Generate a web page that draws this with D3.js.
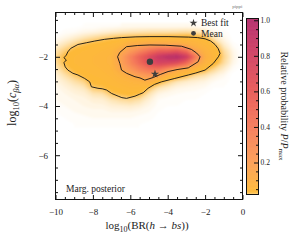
<!DOCTYPE html>
<html>
<head>
<meta charset="utf-8">
<script src="https://cdn.jsdelivr.net/npm/d3@7"></script>
<style>
body { margin: 0; background: #fff; }
svg text { font-family: "Liberation Serif", "DejaVu Serif", serif; fill: #222; }
</style>
</head>
<body>
<script>
// grid of the marginalised posterior, columns = log10 BR, rows = log10 c_ba
var gridX = [-10, -9.5, -9, -8.5, -8, -7.5, -7, -6.5, -6, -5.5, -5, -4.5, -4, -3.5, -3, -2.5, -2, -1.5, -1, -0.5, 0];
var gridY = [-0.75, -1, -1.25, -1.5, -1.75, -2, -2.25, -2.5, -2.75, -3, -3.25, -3.5, -3.75, -4, -4.25, -4.5, -4.75];
var density = [
  [0, 0, 0, 0.001, 0.001, 0.002, 0.002, 0.003, 0.003, 0.003, 0.003, 0.003, 0.003, 0.003, 0.003, 0.003, 0.002, 0.001, 0, 0, 0],
  [0, 0.002, 0.003, 0.005, 0.006, 0.008, 0.01, 0.012, 0.014, 0.015, 0.016, 0.016, 0.016, 0.017, 0.018, 0.016, 0.012, 0.005, 0.002, 0, 0],
  [0.003, 0.006, 0.01, 0.015, 0.02, 0.025, 0.03, 0.034, 0.036, 0.038, 0.04, 0.042, 0.045, 0.045, 0.048, 0.045, 0.036, 0.014, 0.005, 0, 0],
  [0.008, 0.014, 0.022, 0.032, 0.038, 0.042, 0.048, 0.06, 0.12, 0.13, 0.15, 0.16, 0.14, 0.14, 0.1, 0.08, 0.06, 0.032, 0.01, 0.002, 0],
  [0.015, 0.025, 0.04, 0.045, 0.05, 0.055, 0.062, 0.13, 0.22, 0.33, 0.45, 0.55, 0.55, 0.6, 0.45, 0.16, 0.08, 0.05, 0.018, 0.005, 0],
  [0.02, 0.036, 0.045, 0.05, 0.055, 0.06, 0.07, 0.18, 0.36, 0.55, 0.72, 0.88, 0.97, 1.0, 0.85, 0.4, 0.1, 0.055, 0.022, 0.006, 0],
  [0.018, 0.034, 0.045, 0.05, 0.055, 0.06, 0.07, 0.18, 0.33, 0.5, 0.68, 0.78, 0.75, 0.7, 0.5, 0.2, 0.08, 0.042, 0.018, 0.005, 0],
  [0.012, 0.026, 0.04, 0.045, 0.05, 0.056, 0.065, 0.15, 0.24, 0.36, 0.45, 0.45, 0.3, 0.15, 0.1, 0.06, 0.038, 0.02, 0.01, 0.002, 0],
  [0.008, 0.016, 0.027, 0.038, 0.045, 0.05, 0.058, 0.08, 0.13, 0.2, 0.25, 0.18, 0.08, 0.055, 0.035, 0.02, 0.015, 0.008, 0.004, 0, 0],
  [0.006, 0.01, 0.016, 0.022, 0.04, 0.042, 0.05, 0.06, 0.07, 0.08, 0.11, 0.045, 0.025, 0.014, 0.01, 0.008, 0.006, 0.003, 0.002, 0, 0],
  [0.004, 0.007, 0.01, 0.013, 0.028, 0.032, 0.042, 0.048, 0.055, 0.055, 0.032, 0.015, 0.01, 0.006, 0.005, 0.004, 0.003, 0.001, 0.001, 0, 0],
  [0.004, 0.005, 0.007, 0.008, 0.014, 0.016, 0.029, 0.036, 0.042, 0.034, 0.015, 0.006, 0.004, 0.003, 0.002, 0.002, 0.001, 0, 0, 0, 0],
  [0.003, 0.004, 0.005, 0.006, 0.008, 0.009, 0.014, 0.018, 0.02, 0.016, 0.008, 0.003, 0.002, 0.002, 0.001, 0.001, 0, 0, 0, 0, 0],
  [0.002, 0.003, 0.004, 0.005, 0.006, 0.006, 0.008, 0.009, 0.01, 0.008, 0.005, 0.002, 0.001, 0.001, 0, 0, 0, 0, 0, 0, 0],
  [0.001, 0.002, 0.003, 0.004, 0.004, 0.004, 0.005, 0.005, 0.005, 0.004, 0.003, 0.001, 0, 0, 0, 0, 0, 0, 0, 0, 0],
  [0, 0.001, 0.002, 0.002, 0.003, 0.003, 0.003, 0.003, 0.003, 0.002, 0.002, 0, 0, 0, 0, 0, 0, 0, 0, 0, 0],
  [0, 0, 0.001, 0.001, 0.001, 0.001, 0.001, 0.001, 0.001, 0.001, 0, 0, 0, 0, 0, 0, 0, 0, 0, 0, 0]
];
// credible region outlines
var outerContour = [
  [-9.19, -1.66], [-8.8, -1.5], [-8.35, -1.43], [-7.9, -1.36], [-7.37, -1.29], [-6.9, -1.25], [-6.47, -1.22],
  [-5.7, -1.19], [-4.95, -1.18], [-3.98, -1.18], [-2.9, -1.2], [-2.4, -1.22], [-2.0, -1.27], [-1.7, -1.36],
  [-1.47, -1.5], [-1.3, -1.67], [-1.2, -1.86], [-1.29, -2.0], [-1.56, -2.27], [-2.0, -2.54], [-2.5, -2.66],
  [-2.9, -2.74], [-3.62, -2.88], [-4.34, -3.02], [-4.7, -3.12], [-5.05, -3.28], [-5.31, -3.46], [-5.5, -3.52],
  [-5.75, -3.6], [-6.2, -3.69], [-6.45, -3.66], [-6.65, -3.6], [-7.0, -3.49], [-7.27, -3.35], [-7.5, -3.3],
  [-7.73, -3.28], [-8.08, -3.22], [-8.17, -3.02], [-8.44, -2.88], [-8.8, -2.74], [-9.07, -2.67], [-9.34, -2.54],
  [-9.48, -2.41], [-9.55, -2.24], [-9.42, -2.13], [-9.55, -2.04], [-9.42, -1.93], [-9.34, -1.8], [-9.19, -1.66]
];
var innerContour = [
  [-6.2, -1.59], [-5.6, -1.54], [-4.95, -1.52], [-4.1, -1.53], [-3.26, -1.57], [-2.73, -1.7], [-2.45, -1.85],
  [-2.27, -2.0], [-2.37, -2.2], [-2.9, -2.45], [-3.5, -2.52], [-3.98, -2.6], [-4.4, -2.72], [-4.77, -2.84],
  [-5.22, -2.95], [-5.48, -2.86], [-5.75, -2.81], [-6.2, -2.67], [-6.47, -2.54], [-6.56, -2.27], [-6.68, -2.0],
  [-6.56, -1.82], [-6.2, -1.59]
];
var bestFit = [-4.68, -2.70];
var mean = [-4.95, -2.20];
var xTicks = [-10, -8, -6, -4, -2, 0];
var yTicks = [-6, -4, -2];
var cbTicks = [0.2, 0.4, 0.6, 0.8, 1.0];

var width = 296, height = 240;
var x = d3.scaleLinear().domain([-10, 0]).range([55.5, 242.5]);
var y = d3.scaleLinear().domain([-7.8, -0.2]).range([199.5, 12.5]);
var cb = d3.scaleLinear().domain([0.02, 1.01]).range([194.5, 18.5]);

var cmap = d3.scaleLinear()
  .domain([0, 0.2, 0.4, 0.6, 0.8, 1])
  .range(["#fdbf33", "#fc9f57", "#f57b5b", "#e85b58", "#d24263", "#b52f6c"])
  .clamp(true);
var paleEdge = 0.035;
function colour(v) {
  if (v < paleEdge) return d3.interpolateRgb("#ffffff", cmap(paleEdge))(v / paleEdge);
  return cmap(v);
}

var svg = d3.select("body").append("svg")
  .attr("width", width)
  .attr("height", height);
var defs = svg.append("defs");
defs.append("clipPath").attr("id", "plotclip")
  .append("rect").attr("x", 55.5).attr("y", 12.5).attr("width", 187).attr("height", 187);
defs.append("filter").attr("id", "soft").attr("x", "-10%").attr("y", "-10%").attr("width", "120%").attr("height", "120%")
  .append("feGaussianBlur").attr("stdDeviation", 1.2);

// heat map from the density grid
var n = gridX.length, m = gridY.length;
var values = [];
density.forEach(function (row) { row.forEach(function (v) { values.push(v); }); });
var levels = d3.range(0.001, paleEdge, 0.002).concat(d3.range(paleEdge, 1.0, 0.01));
var bands = d3.contours().size([n, m]).thresholds(levels)(values);
var gx = d3.scaleLinear().domain([0.5, n - 0.5]).range([x(gridX[0]), x(gridX[n - 1])]);
var gy = d3.scaleLinear().domain([0.5, m - 0.5]).range([y(gridY[0]), y(gridY[m - 1])]);
var proj = d3.geoTransform({ point: function (a, b) { this.stream.point(gx(a), gy(b)); } });
var gpath = d3.geoPath(proj);

var plot = svg.append("g").attr("clip-path", "url(#plotclip)");
plot.append("g").attr("filter", "url(#soft)")
  .selectAll("path")
  .data(bands)
  .enter().append("path")
  .attr("d", gpath)
  .attr("fill", function (d) { return colour(d.value); });

var line = d3.line()
  .x(function (d) { return x(d[0]); })
  .y(function (d) { return y(d[1]); });
plot.selectAll(".contour")
  .data([outerContour, innerContour])
  .enter().append("path")
  .attr("class", "contour")
  .attr("d", line)
  .attr("fill", "none")
  .attr("stroke", "#111")
  .attr("stroke-width", 0.9)
  .attr("stroke-linejoin", "round");

var markColour = "#3e3e3e";
plot.append("circle")
  .attr("cx", x(mean[0])).attr("cy", y(mean[1])).attr("r", 3.2)
  .attr("fill", markColour);
plot.append("path")
  .attr("d", d3.symbol(d3.symbolStar).size(22)())
  .attr("transform", "translate(" + x(bestFit[0]) + "," + y(bestFit[1]) + ")")
  .attr("fill", markColour);

// axes, ticks pointing in on all four sides
var minorX = d3.range(-9.5, 0, 0.5).filter(function (v) { return xTicks.indexOf(v) < 0; });
var minorY = d3.range(-7.5, -0.2, 0.5).filter(function (v) { return yTicks.indexOf(v) < 0; });
function addAxis(axis, tx, ty, labels) {
  var g = svg.append("g").attr("transform", "translate(" + tx + "," + ty + ")").call(axis);
  g.select(".domain").remove();
  g.selectAll("line").attr("stroke", "#111");
  if (!labels) g.selectAll("text").remove();
  return g;
}
var fmt = d3.format("d");
addAxis(d3.axisBottom(x).tickValues(xTicks).tickSize(-4.5).tickPadding(9).tickFormat(fmt), 0, 199.5, true)
  .selectAll("text").attr("font-size", 9).attr("font-family", null);
addAxis(d3.axisBottom(x).tickValues(minorX).tickSize(-2.5), 0, 199.5, false);
addAxis(d3.axisTop(x).tickValues(xTicks).tickSize(-4.5), 0, 12.5, false);
addAxis(d3.axisTop(x).tickValues(minorX).tickSize(-2.5), 0, 12.5, false);
addAxis(d3.axisLeft(y).tickValues(yTicks).tickSize(-4.5).tickPadding(7.5).tickFormat(fmt), 55.5, 0, true)
  .selectAll("text").attr("font-size", 9).attr("font-family", null);
addAxis(d3.axisLeft(y).tickValues(minorY).tickSize(-2.5), 55.5, 0, false);
addAxis(d3.axisRight(y).tickValues(yTicks).tickSize(-4.5), 242.5, 0, false);
addAxis(d3.axisRight(y).tickValues(minorY).tickSize(-2.5), 242.5, 0, false);

svg.append("rect")
  .attr("x", 55.5).attr("y", 12.5).attr("width", 187).attr("height", 187)
  .attr("fill", "none").attr("stroke", "#111").attr("stroke-width", 1);

// axis titles
var xl = svg.append("text").attr("x", 147).attr("y", 229).attr("text-anchor", "middle").attr("font-size", 11);
xl.append("tspan").text("log");
xl.append("tspan").attr("font-size", 8).attr("dy", 2.5).text("10");
xl.append("tspan").attr("dy", -2.5).text("(BR(");
xl.append("tspan").attr("font-style", "italic").text("h");
xl.append("tspan").text(" \u2192 ");
xl.append("tspan").attr("font-style", "italic").text("bs");
xl.append("tspan").text("))");

var yl = svg.append("text").attr("transform", "translate(16,103) rotate(-90)")
  .attr("text-anchor", "middle").attr("font-size", 12);
yl.append("tspan").text("log");
yl.append("tspan").attr("font-size", 8.5).attr("dy", 2.5).text("10");
yl.append("tspan").attr("dy", -2.5).text("(");
yl.append("tspan").attr("font-style", "italic").text("c");
yl.append("tspan").attr("font-size", 8.5).attr("font-style", "italic").attr("dy", 2.5).text("\u03b2\u03b1");
yl.append("tspan").attr("dy", -2.5).text(")");

svg.append("text").attr("x", 66).attr("y", 192).attr("font-size", 9.5).text("Marg. posterior");

// legend
svg.append("path")
  .attr("d", d3.symbol(d3.symbolStar).size(20)())
  .attr("transform", "translate(193.5,23)")
  .attr("fill", markColour);
svg.append("circle").attr("cx", 193.5).attr("cy", 33.3).attr("r", 2.4).attr("fill", markColour);
svg.append("text").attr("x", 201).attr("y", 26).attr("font-size", 9.5).text("Best fit");
svg.append("text").attr("x", 201).attr("y", 36.5).attr("font-size", 9.5).text("Mean");

svg.append("text").attr("x", 242.5).attr("y", 8).attr("text-anchor", "end")
  .attr("font-size", 5).style("fill", "#777").text("pippi");

// colour bar
var cbx = 246.5, cbw = 12;
var steps = d3.range(0.02, 1.01, 0.0025);
svg.append("g").selectAll("rect")
  .data(steps)
  .enter().append("rect")
  .attr("x", cbx)
  .attr("y", function (d) { return cb(d + 0.0025); })
  .attr("width", cbw)
  .attr("height", function (d) { return cb(d) - cb(d + 0.0025) + 0.4; })
  .attr("fill", function (d) { return colour(d); });
var cbMinor = d3.range(0.05, 1.0, 0.05).filter(function (v) {
  return cbTicks.every(function (t) { return Math.abs(t - v) > 1e-6; });
});
addAxis(d3.axisRight(cb).tickValues(cbMinor).tickSize(-2.5), cbx + cbw, 0, false);
var cbAxis = addAxis(d3.axisRight(cb).tickValues(cbTicks).tickSize(-4.5).tickPadding(2).tickFormat(d3.format(".1f")), cbx + cbw, 0, true);
cbAxis.selectAll("text").attr("font-size", 7.5).attr("font-family", null);
svg.append("rect")
  .attr("x", cbx).attr("y", cb(1.01)).attr("width", cbw).attr("height", cb(0.02) - cb(1.01))
  .attr("fill", "none").attr("stroke", "#111").attr("stroke-width", 1);

var cl = svg.append("text").attr("transform", "translate(281,106) rotate(90)")
  .attr("text-anchor", "middle").attr("font-size", 10);
cl.append("tspan").text("Relative probability ");
cl.append("tspan").attr("font-style", "italic").text("P");
cl.append("tspan").text("/");
cl.append("tspan").attr("font-style", "italic").text("P");
cl.append("tspan").attr("font-size", 7).attr("dy", 2).text("max");
</script>
</body>
</html>
